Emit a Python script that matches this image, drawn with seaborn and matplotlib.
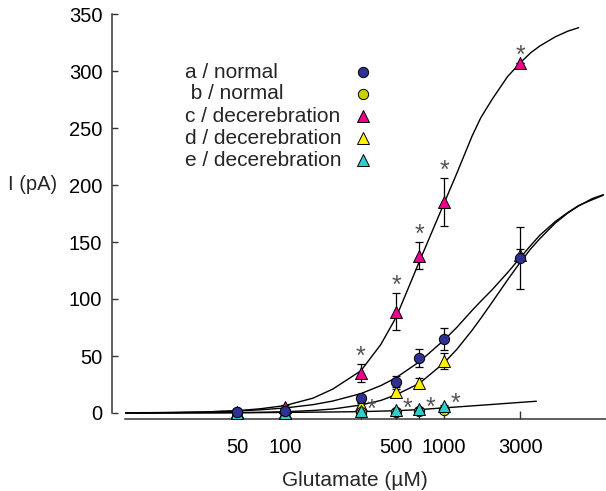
import seaborn as sns
import matplotlib.pyplot as plt
from matplotlib.lines import Line2D
import numpy as np

sns.set_theme(style="ticks")
plt.rcParams['font.family'] = ['Liberation Sans', 'DejaVu Sans']

# measured points (glutamate in uM, current in pA)
conc = [50, 100, 300, 500, 700, 1000, 3000]
a_val = [1, 1.5, 13, 27.5, 48, 65, 136]
a_err = [1.5, 1.5, 3, 5, 8, 10, 27]
b_conc = [50, 100, 300, 500, 700, 1000]
b_val = [0.5, 0.5, 0.5, 1, 1.5, 2.5]
b_err = [0.5, 0.5, 0.5, 0.5, 0.5, 0.5]
c_val = [0.5, 5, 35, 89, 138, 185, 307]
c_err = [1, 2, 8, 16, 12, 21, 0]
d_val = [0.5, 1, 7, 18, 26.5, 46, 139]
d_err = [0.5, 1, 2, 3, 4, 7, 5]
e_conc = [50, 100, 300, 500, 700, 1000]
e_val = [0, 0, 1.8, 2.6, 3.5, 6.4]
e_err = [0.3, 0.3, 0.5, 0.5, 0.5, 0.8]

# fitted curves
fit_conc = [10, 15, 20, 30, 50, 70, 100, 150, 200, 300, 400, 500, 700,
            1000, 1200, 1500, 1700, 2000, 2500, 3000, 3500, 4000, 5000,
            6000, 7000, 8500, 10000]
fit_a = [0.2, 0.35, 0.5, 0.9, 1.8, 2.8, 4.4, 7.3, 10.5, 17, 24, 31, 45,
         64, 75, 90, 98, 108, 123, 136, 147, 156, 168,
         176, 182, 187, 191]
fit_c = [0.1, 0.2, 0.4, 0.8, 2, 3.7, 6.5, 13, 21, 37, 60, 84, 133,
         184, 210, 243, 259, 275, 295, 307, 316, 322, 330,
         335, 338]
fit_d = [0, 0.05, 0.1, 0.2, 0.4, 0.6, 1.1, 2.2, 3.5, 7, 11, 16, 26,
         44, 55.7, 72.6, 83, 97, 116.6, 132, 144, 153, 166.7,
         175.5, 181.6, 188, 191.5]
fit_e_conc = [10, 20, 50, 100, 200, 300, 500, 700, 1000, 2000, 3000, 3800]
fit_e = [0, 0.1, 0.2, 0.5, 0.9, 1.2, 2, 3, 4.5, 7.5, 9.3, 10.3]

xticks = [50, 100, 300, 500, 700, 1000, 3000]
xtick_labels = ['50', '100', '', '500', '', '1000', '3000']

star_c = [300, 500, 700, 1000, 3000]
star_e = [300, 500, 700, 1000]

W, H = 606, 491
fig = plt.figure(figsize=(W / 100, H / 100), dpi=100)
ax = fig.add_axes([125 / W, 1 - 413 / H, (W - 125) / W, (413 - 14) / H])
ax.set_xscale('log')
ax.set_xlim(9.9, 10400)
ax.set_ylim(0, 350)

# fitted curves
for xs, ys in [(fit_conc[:len(fit_c)], fit_c), (fit_conc, fit_a),
               (fit_conc, fit_d), (fit_e_conc, fit_e)]:
    sns.lineplot(x=xs, y=ys, color='black', lw=1.0, ax=ax, zorder=2)
    ax.lines[-1].set_clip_on(False)

series = [
    ('c', conc, c_val, c_err, '^', '#EC008C'),
    ('d', conc, d_val, d_err, '^', '#FFF200'),
    ('b', b_conc, b_val, b_err, 'o', '#C8D400'),
    ('e', e_conc, e_val, e_err, '^', '#33CCCC'),
    ('a', conc, a_val, a_err, 'o', '#2E3192'),
]
for i, (name, xs, ys, es, mk, col) in enumerate(series):
    z = 3 + i * 2
    eb = ax.errorbar(xs, ys, yerr=es, fmt='none', ecolor='black',
                     elinewidth=0.9, capsize=2.6, capthick=0.9, zorder=z)
    for art in eb.lines[1] + eb.lines[2]:
        art.set_clip_on(False)
    sns.scatterplot(x=xs, y=ys, marker=mk, s=74 if mk == '^' else 55,
                    color=col, edgecolor='black', linewidth=0.7,
                    ax=ax, zorder=z + 1, legend=False)
    ax.collections[-1].set_clip_on(False)

# significance stars
for x in star_c:
    i = conc.index(x)
    ax.annotate('*', (x, c_val[i] + c_err[i]), xytext=(0, 5),
                textcoords='offset points', ha='center', va='center',
                fontsize=18, color='#555555')
for x in star_e:
    i = e_conc.index(x)
    ax.annotate('*', (x, e_val[i]), xytext=(8, 1),
                textcoords='offset points', ha='center', va='center',
                fontsize=18, color='#555555')

# axes styling
for side in ['top', 'right']:
    ax.spines[side].set_visible(False)
ax.spines['left'].set_position(('outward', 13 * 0.72))
ax.spines['bottom'].set_position(('outward', 6 * 0.72))
for side in ['left', 'bottom']:
    ax.spines[side].set_color('#333333')
    ax.spines[side].set_linewidth(1.1)

ax.set_yticks(np.arange(0, 351, 50))
ax.set_xticks(xticks)
ax.set_xticklabels(xtick_labels)
ax.xaxis.set_minor_locator(plt.NullLocator())
ax.tick_params(axis='y', direction='in', length=4.3, width=1, pad=7,
               labelsize=14.5, colors='#333333', labelcolor='black')
ax.tick_params(axis='x', direction='in', length=5.8, width=1, pad=14,
               labelsize=14.5, colors='#333333', labelcolor='black')

ax.set_xlabel('Glutamate (\u00b5M)', fontsize=15, va='center')
ax.xaxis.set_label_coords((355 - 125) / (W - 125), (413 - 480) / 399)
ax.set_ylabel('I (pA)', fontsize=14.5, rotation=0, ha='left', va='center')
ax.yaxis.set_label_coords((8 - 125) / (W - 125), 200 / 350)

# legend (text left, marker to the right)
legend_rows = [('a / normal', 'o', '#2E3192'),
               (' b / normal', 'o', '#C8D400'),
               ('c / decerebration', '^', '#EC008C'),
               ('d / decerebration', '^', '#FFF200'),
               ('e / decerebration', '^', '#33CCCC')]
for k, (lab, mk, col) in enumerate(legend_rows):
    yy = 1 - (72 + 22 * k) / H
    fig.text(185 / W, yy, lab, fontsize=15, va='center', ha='left')
    fig.add_artist(Line2D([363 / W], [yy], marker=mk, ls='none',
                          ms=8.6 if mk == '^' else 7.4, mfc=col, mec='black',
                          mew=0.7, transform=fig.transFigure))

fig.savefig('out.png', dpi=100)
